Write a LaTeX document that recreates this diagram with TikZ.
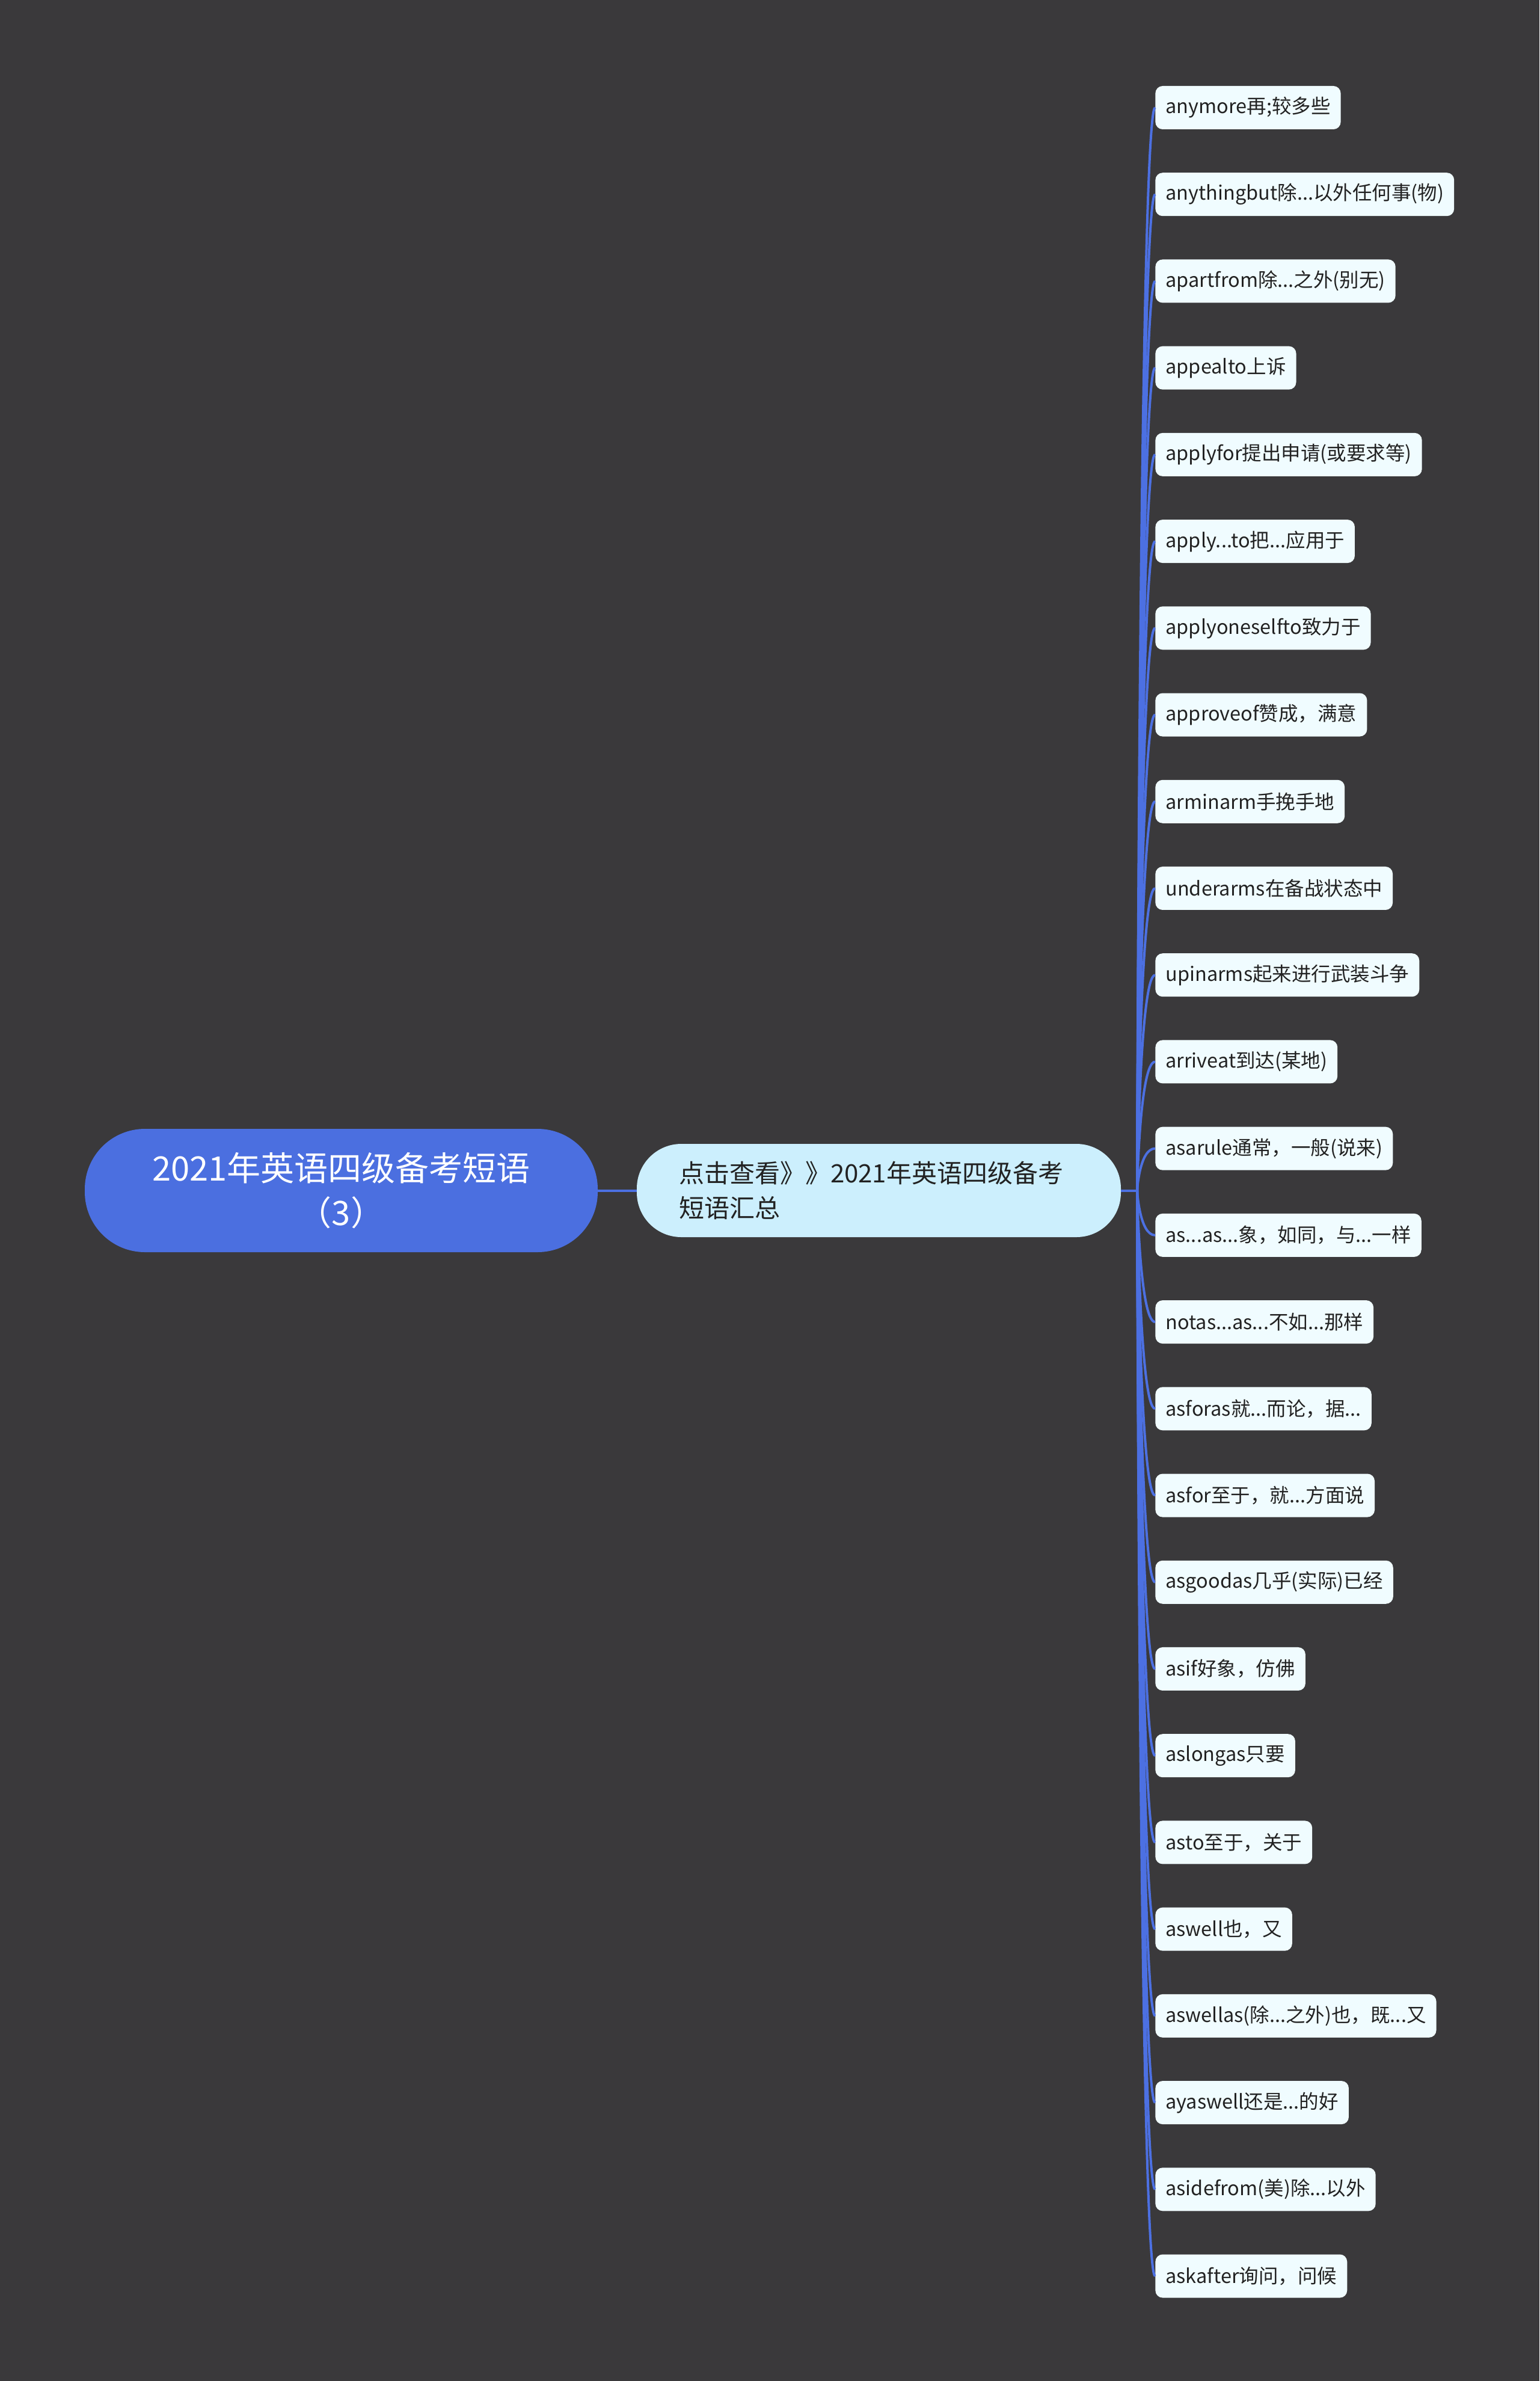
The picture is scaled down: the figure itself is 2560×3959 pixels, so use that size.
\documentclass[tikz,border=0pt]{standalone}
\usepackage{fontspec}
\setmainfont{Noto Sans CJK SC}
\usetikzlibrary{calc}
\definecolor{bg}{RGB}{58,57,59}
\definecolor{rootc}{RGB}{75,111,224}
\definecolor{midc}{RGB}{204,239,253}
\definecolor{leafc}{RGB}{240,252,255}
\definecolor{linec}{RGB}{76,112,226}
\definecolor{txt}{RGB}{34,34,34}
\newcommand\dts{...}
\begin{document}
\begin{tikzpicture}[x=0.5pt,y=-0.5pt,
  rootbox/.style={fill=rootc, rounded corners=50pt, minimum width=426.5pt, minimum height=102.5pt, align=center, text=white, font=\fontsize{28pt}{37pt}\selectfont, inner sep=0pt},
  midbox/.style={fill=midc, rounded corners=37pt, text width=332.5pt, inner xsep=35pt, minimum height=77.5pt, align=left, text=txt, font=\fontsize{21pt}{29pt}\selectfont},
  leafbox/.style={fill=leafc, rounded corners=6pt, minimum height=36pt, inner xsep=8.5pt, anchor=west, text=txt, font=\fontsize{16.25pt}{20pt}\selectfont},
  conn/.style={draw=linec, line width=2pt}]
\fill[bg] (0,0) rectangle (2560,3959);
\node[rootbox] (root) at (567.5,1979.5) {2021年英语四级备考短语\\（3）};
\node[midbox] (mid) at (1461.5,1979.5) {点击查看》》2021年英语四级备考\\短语汇总};
\coordinate (j) at (1891,1979.5);
\draw[conn] (root.east) -- (mid.west);
\draw[conn] (mid.east) -- (j);
\foreach \t [count=\i] in {anymore再;较多些, anythingbut除\dts 以外任何事(物), apartfrom除\dts 之外(别无), appealto上诉, applyfor提出申请(或要求等), apply\dts to把\dts 应用于, applyoneselfto致力于, approveof赞成，满意, arminarm手挽手地, underarms在备战状态中, upinarms起来进行武装斗争, arriveat到达(某地), asarule通常，一般(说来), as\dts as\dts 象，如同，与\dts 一样, notas\dts as\dts 不如\dts 那样, asforas就\dts 而论，据\dts, asfor至于，就\dts 方面说, asgoodas几乎(实际)已经, asif好象，仿佛, aslongas只要, asto至于，关于, aswell也，又, aswellas(除\dts 之外)也，既\dts 又, ayaswell还是\dts 的好, asidefrom(美)除\dts 以外, askafter询问，问候}{
  \node[leafbox] (l\i) at (1921,{179+144.22*(\i-1)}) {\t};
}
\foreach \i in {1,...,26}{
  \draw[conn] (j) .. controls (j) and ($(j |- l\i.west)+(4,0)$) .. (l\i.west);
}
\end{tikzpicture}
\end{document}
